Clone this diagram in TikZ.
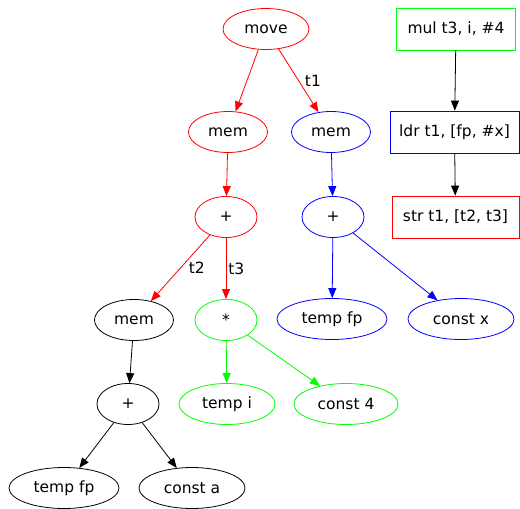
\documentclass[tikz,border=0pt]{standalone}
\usepackage{fontspec}
\setmainfont{DejaVu Sans}
\usetikzlibrary{shapes.geometric,arrows.meta}

\definecolor{tgreen}{RGB}{0,255,0}
\tikzset{
	treenode/.style={ellipse, draw=#1, minimum height=41pt, minimum width=62pt, inner sep=1pt, line width=0.8pt},
	treenode/.default=black,
	instr/.style={rectangle, draw=#1, minimum height=42pt, line width=0.8pt},
	edge/.style={->, line width=0.8pt, >={Triangle[length=10pt,width=8pt]}},
	lbl/.style={text=black, inner sep=2pt}
}

\begin{document}
\begin{tikzpicture}[x=1pt, y=-1pt, font=\fontsize{15.5}{18}\selectfont]
	\useasboundingbox (0,0) rectangle (520,509);
	% tree for the store
	\node[treenode=red, minimum width=86pt] (move) at (266,29) {move};
	\node[treenode=red, minimum width=79pt] (memA) at (228,132) {mem};
	\node[treenode=blue, minimum width=79pt] (memB) at (331,132) {mem};
	\node[treenode=red] (plusA) at (226,217) {+};
	\node[treenode=blue] (plusB) at (333,217) {+};
	\node[treenode, minimum width=79pt] (memC) at (134,320) {mem};
	\node[treenode=tgreen] (times) at (226,320) {*};
	\node[treenode=blue, minimum width=110pt] (fpB) at (332,319) {temp fp};
	\node[treenode=blue, minimum width=106pt] (cx) at (461,319) {const x};
	\node[treenode] (plusC) at (128,404) {+};
	\node[treenode=tgreen, minimum width=96pt] (ti) at (227,404) {temp i};
	\node[treenode=tgreen, minimum width=104pt] (c4) at (346,404) {const 4};
	\node[treenode, minimum width=110pt] (fpC) at (64,488) {temp fp};
	\node[treenode, minimum width=106pt] (ca) at (192,488) {const a};

	% emitted instructions
	\node[instr=tgreen, minimum width=119pt] (mul) at (456,29) {mul t3, i, \#4};
	\node[instr=blue, minimum width=129pt] (ldr) at (454.5,132) {ldr t1, [fp, \#x]};
	\node[instr=red, minimum width=127pt] (str) at (455.5,217) {str t1, [t2, t3]};

	\draw[edge, red] (move) -- (memA);
	\draw[edge, red] (move) -- node[lbl, anchor=west, xshift=4pt] {t1} (memB);
	\draw[edge, red] (memA) -- (plusA);
	\draw[edge, blue] (memB) -- (plusB);
	\draw[edge, red] (plusA) -- node[lbl, anchor=west, xshift=6pt] {t2} (memC);
	\draw[edge, red] (plusA) -- node[lbl, anchor=west] {t3} (times);
	\draw[edge, blue] (plusB) -- (fpB);
	\draw[edge, blue] (plusB) -- (cx);
	\draw[edge] (memC) -- (plusC);
	\draw[edge, tgreen] (times) -- (ti);
	\draw[edge, tgreen] (times) -- (c4);
	\draw[edge] (plusC) -- (fpC);
	\draw[edge] (plusC) -- (ca);
	\draw[edge] (mul) -- (ldr);
	\draw[edge] (ldr) -- (str);
\end{tikzpicture}
\end{document}
